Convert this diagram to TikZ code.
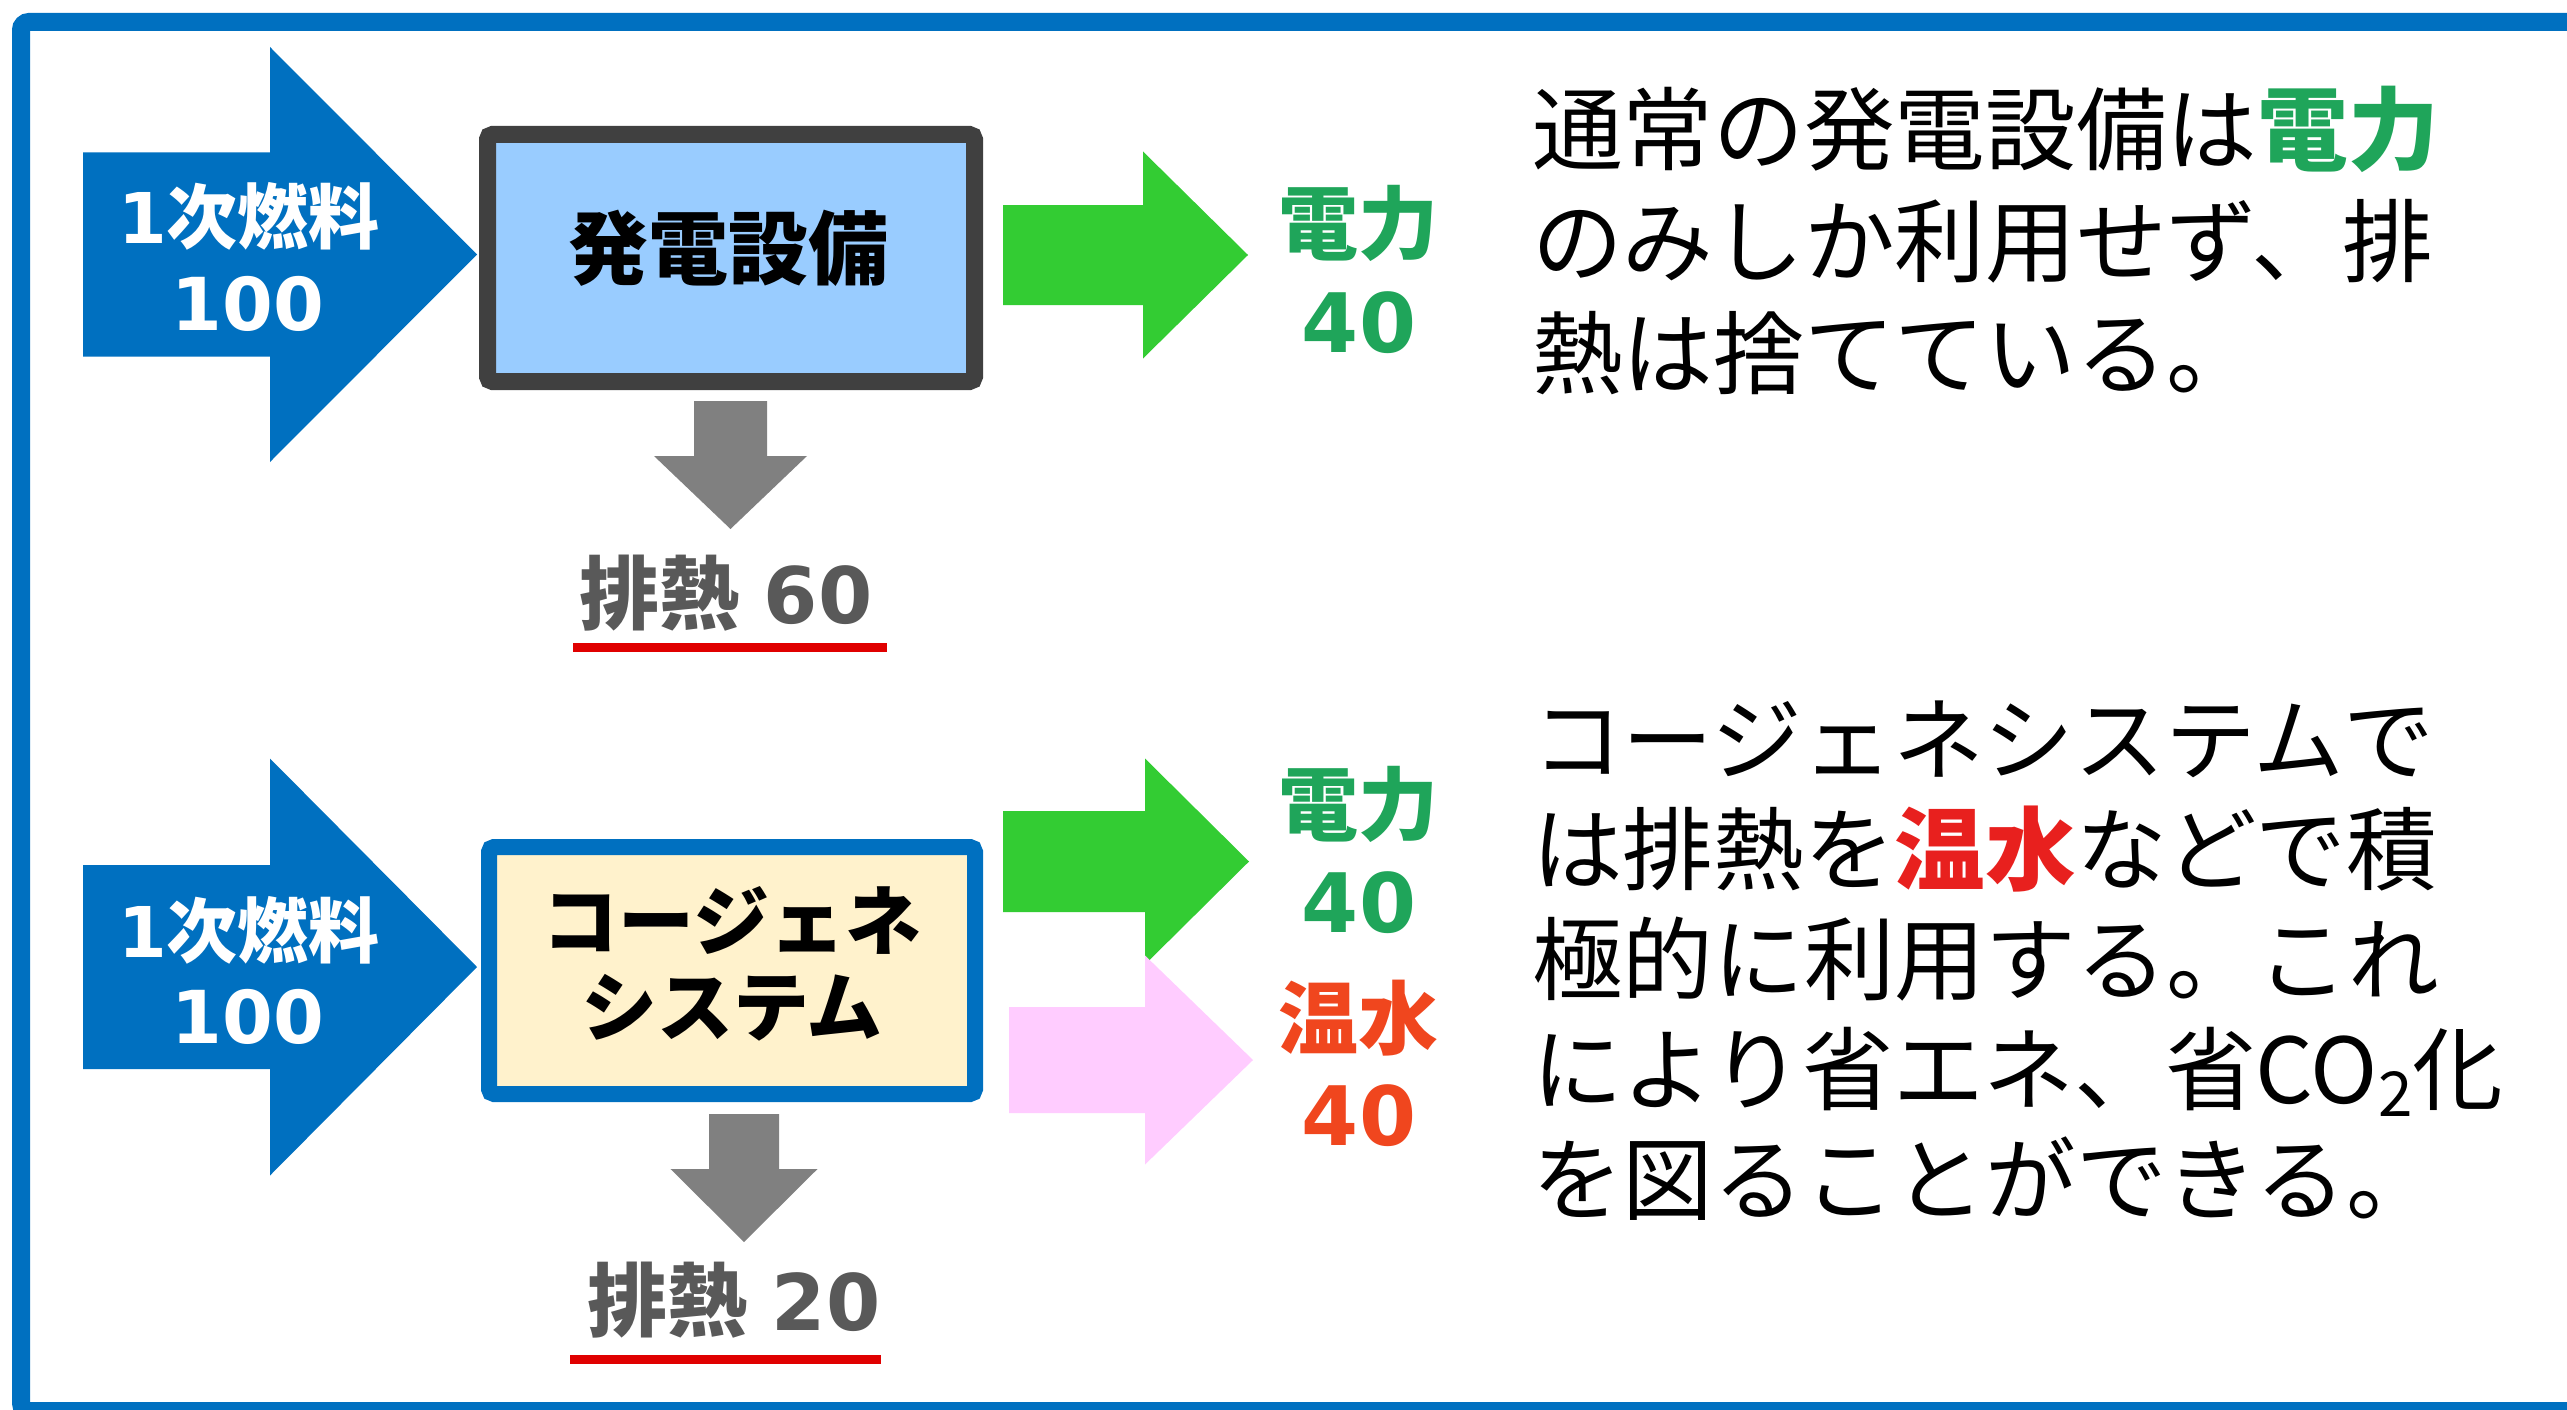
\documentclass[tikz,border=0pt]{standalone}
\usepackage{fontspec}
\newfontfamily\jp{Noto Sans CJK JP}
\newfontfamily\dv{DejaVu Sans}
\definecolor{frameblue}{HTML}{0070C0}
\definecolor{arrblue}{HTML}{0070C0}
\definecolor{arrgreen}{HTML}{33CC33}
\definecolor{arrpink}{HTML}{FFCCFF}
\definecolor{arrgray}{HTML}{808080}
\definecolor{heatgray}{HTML}{595959}
\definecolor{redline}{HTML}{E00000}
\definecolor{lblgreen}{HTML}{1FA55A}
\definecolor{lblorange}{HTML}{F0461E}
\definecolor{txtred}{HTML}{E8201E}
\definecolor{boxAfill}{HTML}{99CCFF}
\definecolor{boxAdraw}{HTML}{404040}
\definecolor{boxBfill}{HTML}{FFF2CC}
% right block arrow: color, xleft, xbase, xtip, ycenter, half body, half head
\newcommand\ArrR[7]{\fill[#1] (#2,{#5-#6}) -- (#3,{#5-#6}) -- (#3,{#5-#7}) -- (#4,#5) -- (#3,{#5+#7}) -- (#3,{#5+#6}) -- (#2,{#5+#6}) -- cycle;}
% down block arrow: color, ytop, ybase, ytip, xcenter, half body, half head
\newcommand\ArrD[7]{\fill[#1] ({#5-#6},#2) -- ({#5+#6},#2) -- ({#5+#6},#3) -- ({#5+#7},#3) -- (#5,#4) -- ({#5-#7},#3) -- ({#5-#6},#3) -- cycle;}
\newcommand\dg[2]{{\dv\bfseries\fontsize{#1}{#1}\selectfont #2}}
\begin{document}
\begin{tikzpicture}[x=1pt,y=-1pt,
  txt/.style={inner sep=0pt, outer sep=0pt, anchor=base},
  para/.style={inner sep=0pt, outer sep=0pt, anchor=base west, font=\jp\fontsize{90.7}{111}\selectfont, text=black},
  jpb/.style={font=\jp\bfseries\fontsize{#1}{#1}\selectfont},
  dgb/.style={font=\dv\bfseries\fontsize{#1}{#1}\selectfont},
  boxA/.style={draw=boxAdraw, fill=boxAfill, line width=17pt, rounded corners=5pt, minimum width=487pt, minimum height=247pt, inner sep=0pt},
  boxB/.style={draw=frameblue, fill=boxBfill, line width=16pt, rounded corners=5pt, minimum width=486pt, minimum height=247pt, inner sep=0pt},
  uline/.style={draw=redline, line width=9pt}
]
\useasboundingbox (0,0) rectangle (2567,1410);
\fill[white] (0,0) rectangle (2567,1410);
% outer frame: only its left, top and bottom sides fall inside the picture
\coordinate (frTR) at (2620,22);
\coordinate (frTL) at (21,22);
\coordinate (frBL) at (21,1411);
\coordinate (frBR) at (2620,1411);
\draw[frameblue, line width=18pt, rounded corners=8pt] (frTR) -- (frTL) -- (frBL) -- (frBR);

% ---------- upper row ----------
\ArrR{arrblue}{83}{270}{477}{254.5}{102}{207.5}
\node[txt, jpb=71, text=white] (fuelA) at (249,243) {\dg{70}{1}次燃料};
\node[txt, dgb=73, text=white] (fuelAv) at (248,330) {100};

\node[boxA] (genA) at (731,258) {};
\node[txt, jpb=80, text=black] (genAt) at (728,278) {発電設備};

\ArrR{arrgreen}{1003}{1143}{1248}{255}{50}{103.5}
\node[txt, jpb=80, text=lblgreen] (elA) at (1358,253) {電力};
\node[txt, dgb=82, text=lblgreen] (elAv) at (1359,352) {40};

\ArrD{arrgray}{401}{456}{529}{730.5}{36.5}{76.5}
\node[txt, jpb=80, text=heatgray] (heatA) at (726,623) {排熱\hspace{24pt}\dg{78}{60}};
\coordinate (ulAl) at (573,647);
\coordinate (ulAr) at (887,647);
\draw[uline] (ulAl) -- (ulAr);

\node[para] (pA1) at (1532,163.5) {通常の発電設備は\textcolor{lblgreen}{\bfseries 電力}};
\node[para] (pA2) at (1532,275.5) {のみしか利用せず、排};
\node[para] (pA3) at (1532,387.5) {熱は捨てている。};

% ---------- lower row ----------
\ArrR{arrblue}{83}{270}{477}{967}{102}{208.5}
\node[txt, jpb=71, text=white] (fuelB) at (249,957) {\dg{70}{1}次燃料};
\node[txt, dgb=73, text=white] (fuelBv) at (248,1043) {100};

\node[boxB] (genB) at (732,970.5) {};
\node[txt, jpb=76, text=black] (genBt1) at (732,949) {コージェネ};
\node[txt, jpb=76, text=black] (genBt2) at (732,1035) {システム};

\ArrR{arrgreen}{1003}{1145}{1249}{861.5}{50.5}{103}
\ArrR{arrpink}{1009}{1145}{1253}{1060}{53}{104.5}
\node[txt, jpb=80, text=lblgreen] (elB) at (1358,834) {電力};
\node[txt, dgb=82, text=lblgreen] (elBv) at (1359,932) {40};
\node[txt, jpb=80, text=lblorange] (hwB) at (1358,1048) {温水};
\node[txt, dgb=82, text=lblorange] (hwBv) at (1359,1145) {40};

\ArrD{arrgray}{1114}{1169}{1242}{744}{35}{73.5}
\node[txt, jpb=80, text=heatgray] (heatB) at (734,1330) {排熱\hspace{24pt}\dg{78}{20}};
\coordinate (ulBl) at (570,1359);
\coordinate (ulBr) at (881,1359);
\draw[uline] (ulBl) -- (ulBr);

\node[para] (pB1) at (1532,773.5) {コージェネシステムで};
\node[para] (pB2) at (1532,883.5) {は排熱を\textcolor{txtred}{\bfseries 温水}などで積};
\node[para] (pB3) at (1532,993.5) {極的に利用する。これ};
\node[para] (pB4) at (1532,1103.5) {により省エネ、省CO\raisebox{-13pt}{\fontsize{62}{62}\selectfont 2}化};
\node[para] (pB5) at (1532,1213.5) {を図ることができる。};

% keep the right margin white
\fill[white] (2545,31) rectangle (2600,1402);
\end{tikzpicture}
\end{document}
